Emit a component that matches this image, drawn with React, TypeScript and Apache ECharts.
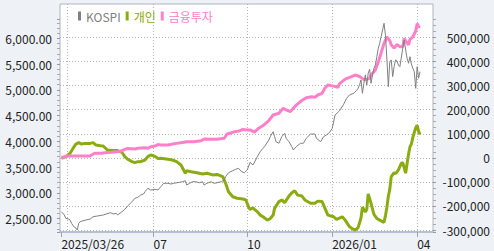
import React, { useEffect, useRef } from 'react';
import * as echarts from 'echarts';

// KRX market holidays inside the charted period
const HOLIDAYS = [
  '2025-05-01', '2025-05-05', '2025-05-06', '2025-06-03', '2025-06-06',
  '2025-08-15', '2025-10-03', '2025-10-06', '2025-10-07', '2025-10-08',
  '2025-10-09', '2025-12-25', '2025-12-31', '2026-01-01', '2026-02-16',
  '2026-02-17', '2026-02-18', '2026-03-02',
];
const FIRST_CATEGORY = '2025-03-25'; // one trading day before the first point
const CATEGORY_COUNT = 260;

const legendNames = ['KOSPI', '개인', '금융투자'];
const colors = { kospi: '#808080', individual: '#8aab12', financial: '#ff80c8' };

// [trading-day index counted from 2025-03-26, value]
const kospi: [number, number][] = [
  [0, 2632], [2, 2568], [3, 2504], [5, 2490], [6, 2471], [7, 2407], [9, 2329], [10, 2315], [11, 2277],
  [12, 2407], [13, 2438], [15, 2457], [17, 2471], [20, 2490], [22, 2535], [25, 2549], [29, 2568],
  [31, 2587], [34, 2613], [36, 2587], [38, 2601], [39, 2568], [42, 2632], [44, 2679], [46, 2743],
  [49, 2826], [51, 2892], [53, 2912], [55, 2957], [57, 2976], [58, 3021], [60, 3087], [62, 3054],
  [65, 3067], [67, 3054], [69, 3118], [71, 3184], [74, 3184], [76, 3170], [78, 3184], [82, 3203],
  [84, 3215], [86, 3234], [87, 3151], [89, 3184], [91, 3215], [93, 3215], [96, 3195], [98, 3215],
  [99, 3151], [101, 3184], [104, 3215], [106, 3184], [108, 3195], [111, 3215], [113, 3248], [114, 3312],
  [116, 3390], [119, 3429], [121, 3456], [123, 3475], [125, 3409], [127, 3390], [129, 3442], [131, 3590],
  [133, 3539], [136, 3700], [138, 3798], [140, 3864], [141, 3895], [144, 4025], [145, 4089], [147, 4186],
  [148, 4089], [149, 3992], [151, 3961], [153, 4089], [155, 4155], [156, 4058], [158, 3992], [160, 3895],
  [161, 3831], [163, 3895], [166, 3961], [168, 3961], [170, 4058], [173, 4141], [176, 4141], [177, 4058],
  [180, 3992], [182, 4089], [184, 4122], [186, 4167], [188, 4250], [190, 4510], [193, 4590], [196, 4720],
  [198, 4835], [200, 4899], [203, 4932], [205, 4990], [206, 5029], [207, 5100], [208, 5190], [209, 4932],
  [210, 5126], [211, 5290], [212, 5093], [213, 5321], [214, 5400], [215, 5126], [216, 5288], [217, 5418],
  [218, 5482], [219, 5643], [220, 5807], [221, 5904], [222, 6033], [223, 6163], [224, 6292], [225, 6060],
  [226, 5580], [227, 5060], [228, 5546], [229, 5580], [230, 5256], [231, 5450], [232, 5580], [233, 5560],
  [234, 5482], [235, 5449], [237, 5807], [238, 5969], [239, 5775], [240, 5612], [241, 5515], [242, 5643],
  [243, 5500], [244, 5418], [245, 5352], [246, 5029], [247, 5449], [248, 5224], [249, 5352],
];

const individual: [number, number][] = [
  [0, -2000], [3, 5000], [6, 19000], [8, 39000], [10, 57000], [12, 63000], [14, 57000], [16, 60000],
  [20, 60000], [22, 63000], [24, 53000], [27, 50000], [29, 49000], [32, 32000], [36, 30000], [39, 30000],
  [42, 23000], [44, 5000], [46, -6000], [49, -16000], [51, -20000], [53, -16000], [55, -16000], [58, -9000],
  [60, 5000], [62, 12000], [65, 6000], [67, -3000], [69, -2000], [74, -6000], [77, -9000], [80, -16000],
  [83, -30000], [86, -64000], [87, -54000], [90, -58000], [94, -62000], [98, -67000], [101, -64000],
  [105, -71000], [108, -69000], [112, -78000], [114, -106000], [116, -141000], [119, -162000],
  [122, -168000], [126, -171000], [128, -175000], [130, -205000], [131, -215000], [133, -208000],
  [134, -214000], [136, -224000], [138, -238000], [140, -245000], [143, -259000], [145, -252000],
  [147, -238000], [148, -210000], [151, -182000], [153, -175000], [155, -187000], [158, -159000],
  [160, -145000], [162, -137000], [164, -155000], [167, -159000], [169, -175000], [173, -189000],
  [176, -189000], [178, -180000], [181, -182000], [183, -210000], [185, -238000], [189, -245000],
  [191, -256000], [195, -245000], [197, -259000], [200, -286000], [202, -295000], [204, -300000],
  [206, -290000], [208, -250000], [209, -205000], [211, -225000], [212, -215000], [213, -150000],
  [215, -190000], [217, -235000], [219, -252000], [221, -259000], [223, -265000], [224, -268000],
  [225, -240000], [226, -205000], [227, -160000], [228, -130000], [229, -78000], [231, -62000],
  [232, -66000], [234, -50000], [236, -23000], [237, -20000], [239, -64000], [241, 15000], [242, 45000],
  [243, 58000], [244, 85000], [246, 125000], [247, 135000], [248, 110000], [249, 97000],
];

const financial: [number, number][] = [
  [0, 0], [2, 4600], [4, 7500], [11, 7500], [20, 7500], [21, 11600], [23, 18700], [28, 18700], [30, 21000],
  [35, 23000], [39, 25000], [42, 29500], [44, 35000], [46, 38600], [51, 36600], [53, 39500], [58, 42000],
  [60, 39500], [62, 46000], [65, 49000], [67, 55000], [69, 53000], [74, 53000], [77, 57000], [80, 60000],
  [84, 64000], [87, 67000], [92, 67000], [97, 71000], [99, 78000], [104, 77000], [108, 77000], [113, 81000],
  [115, 99000], [120, 108000], [123, 111000], [126, 118000], [129, 116000], [131, 116000], [134, 107000],
  [137, 123000], [140, 134000], [144, 155000], [147, 178000], [151, 185000], [154, 206000], [156, 199000],
  [159, 192000], [161, 206000], [163, 219000], [167, 238000], [170, 250000], [174, 254000], [176, 251000],
  [178, 261000], [181, 268000], [183, 290000], [185, 303000], [189, 298000], [192, 293000], [193, 307000],
  [197, 327000], [201, 336000], [204, 344000], [207, 338000], [210, 325000], [212, 326000], [214, 330000],
  [215, 344000], [218, 365000], [220, 398000], [222, 436000], [224, 476000], [226, 503000], [228, 487000],
  [229, 469000], [231, 456000], [233, 471000], [235, 462000], [237, 462000], [238, 497000], [240, 477000],
  [241, 469000], [242, 492000], [244, 503000], [246, 527000], [247, 558000], [248, 544000], [249, 548000],
];

function buildTradingDays(start: string, count: number): string[] {
  const hol = new Set(HOLIDAYS);
  const out: string[] = [];
  const dt = new Date(start + 'T00:00:00Z');
  while (out.length < count) {
    const dow = dt.getUTCDay();
    const s = dt.toISOString().slice(0, 10);
    if (dow !== 0 && dow !== 6 && !hol.has(s)) out.push(s);
    dt.setUTCDate(dt.getUTCDate() + 1);
  }
  return out;
}

const FONT = "'Noto Sans CJK KR', 'Noto Sans', sans-serif";

export default function App() {
  const ref = useRef<HTMLDivElement>(null);

  useEffect(() => {
    if (!ref.current) return;
    const chart = echarts.init(ref.current, undefined, { renderer: 'svg' });

    const dates = buildTradingDays(FIRST_CATEGORY, CATEGORY_COUNT);
    const month = (s: string) => Number(s.slice(5, 7));
    const quarterStarts = new Set<number>();
    dates.forEach((s, i) => {
      if (i > 0 && month(s) !== month(dates[i - 1]) && month(s) % 3 === 1) quarterStarts.add(i);
    });
    const labelIdx = new Set<number>([1]);
    quarterStarts.forEach((i) => { if (i > 20) labelIdx.add(i); });
    const fmtDate = (s: string, i: number) =>
      i === 1 ? s.replace(/-/g, '/') : month(s) === 1 ? s.slice(0, 4) + '/01' : s.slice(5, 7);

    const toPts = (arr: [number, number][]) => arr.map(([d, v]) => [d + 1, v]);
    const dotted = { color: '#b4b4b4', width: 1, type: [1, 2] as number[] };

    chart.setOption({
      animation: false,
      backgroundColor: '#eef2f7',
      textStyle: { fontFamily: FONT },
      legend: {
        left: 78,
        top: 10,
        padding: 0,
        icon: 'rect',
        itemWidth: 3,
        itemHeight: 9,
        itemGap: 5,
        textStyle: { fontSize: 12, fontFamily: FONT },
        data: [
          { name: legendNames[0], textStyle: { color: colors.kospi } },
          { name: legendNames[1], textStyle: { color: colors.individual } },
          { name: legendNames[2], textStyle: { color: colors.financial } },
        ],
      },
      grid: [
        { left: 60, right: 61, top: 4, bottom: 19, show: true, backgroundColor: '#ffffff', borderColor: '#aeb6c2', borderWidth: 1 },
        { left: 60, right: 61, top: 19, bottom: 19, show: false },
      ],
      xAxis: [
        {
          gridIndex: 0,
          type: 'category',
          data: dates,
          boundaryGap: false,
          axisLine: { show: true, lineStyle: { color: '#b5c0d0', width: 2 } },
          axisTick: { show: true, length: 5, interval: (i: number) => labelIdx.has(i), lineStyle: { color: '#9aa4b2' } },
          axisLabel: {
            interval: (i: number) => labelIdx.has(i),
            formatter: (v: string, i: number) => fmtDate(v, i),
            align: 'left',
            margin: 5,
            color: '#222',
            fontSize: 12,
            fontFamily: FONT,
          },
          splitLine: { show: true, interval: (i: number) => quarterStarts.has(i), lineStyle: dotted },
        },
        { gridIndex: 1, type: 'category', data: dates, boundaryGap: false, show: false },
      ],
      yAxis: [
        { gridIndex: 0, type: 'value', show: false, min: 0, max: 1, splitLine: { show: false } },
        {
          gridIndex: 1,
          type: 'value',
          position: 'left',
          min: 2238,
          max: 6375,
          minInterval: 500,
          maxInterval: 500,
          axisLine: { show: false },
          axisTick: { show: true, length: 3, lineStyle: { color: '#999' } },
          minorTick: { show: true, splitNumber: 5, length: 3, lineStyle: { color: '#aaa' } },
          splitLine: { show: false },
          axisLabel: {
            showMinLabel: false,
            showMaxLabel: false,
            margin: 8,
            color: '#222',
            fontSize: 12,
            fontFamily: FONT,
            formatter: (v: number) => v.toLocaleString('en-US', { minimumFractionDigits: 2, maximumFractionDigits: 2 }),
          },
        },
        {
          gridIndex: 1,
          type: 'value',
          position: 'right',
          min: -308300,
          max: 576900,
          minInterval: 100000,
          maxInterval: 100000,
          axisLine: { show: false },
          axisTick: { show: true, length: 3, lineStyle: { color: '#999' } },
          minorTick: { show: true, splitNumber: 4, length: 3, lineStyle: { color: '#aaa' } },
          splitLine: { show: true, showMinLine: false, showMaxLine: false, lineStyle: dotted },
          axisLabel: {
            showMinLabel: false,
            showMaxLabel: false,
            align: 'right',
            margin: 57,
            color: '#222',
            fontSize: 12,
            fontFamily: FONT,
            formatter: (v: number) => v.toLocaleString('en-US'),
          },
        },
      ],
      series: [
        {
          name: legendNames[1],
          type: 'line',
          xAxisIndex: 1,
          yAxisIndex: 2,
          data: toPts(individual),
          showSymbol: false,
          color: colors.individual,
          lineStyle: { width: 3, color: colors.individual },
        },
        {
          name: legendNames[2],
          type: 'line',
          xAxisIndex: 1,
          yAxisIndex: 2,
          data: toPts(financial),
          showSymbol: false,
          color: colors.financial,
          lineStyle: { width: 3, color: colors.financial },
        },
        {
          name: legendNames[0],
          type: 'line',
          xAxisIndex: 1,
          yAxisIndex: 1,
          data: toPts(kospi),
          showSymbol: false,
          color: colors.kospi,
          lineStyle: { width: 1, color: colors.kospi },
        },
      ],
    });

    return () => chart.dispose();
  }, []);

  return <div ref={ref} style={{ position: 'fixed', left: 0, top: 0, width: 494, height: 251 }} />;
}
